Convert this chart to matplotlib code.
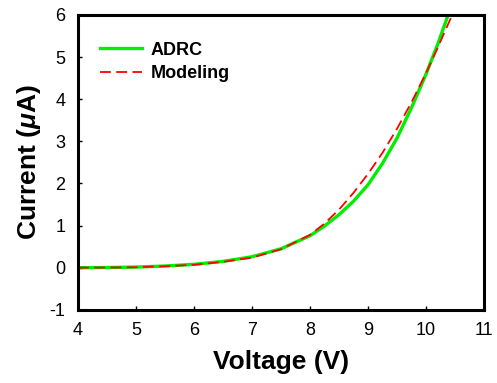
import matplotlib
matplotlib.use("Agg")
import matplotlib.pyplot as plt

# data
volt_adrc = [4.0, 4.5, 5.0, 5.5, 6.0, 6.5, 7.0, 7.5, 8.0, 8.25, 8.5, 8.75, 9.0, 9.25, 9.5, 9.75, 10.0, 10.2, 10.38]
curr_adrc = [0.0, 0.005, 0.015, 0.04, 0.08, 0.15, 0.26, 0.45, 0.76, 0.99, 1.26, 1.58, 1.97, 2.48, 3.08, 3.8, 4.6, 5.3, 6.0]

volt_model = [4.0, 4.5, 5.0, 5.5, 6.0, 6.5, 7.0, 7.5, 8.0, 8.25, 8.5, 8.75, 9.0, 9.25, 9.5, 9.75, 10.0, 10.2, 10.45]
curr_model = [0.0, 0.004, 0.012, 0.035, 0.07, 0.14, 0.24, 0.44, 0.78, 1.05, 1.38, 1.78, 2.23, 2.73, 3.3, 3.93, 4.62, 5.22, 6.0]

x_ticks = [4, 5, 6, 7, 8, 9, 10, 11]
y_ticks = [-1, 0, 1, 2, 3, 4, 5, 6]

plt.rcParams['font.family'] = ['Liberation Sans', 'DejaVu Sans']
plt.rcParams['mathtext.fontset'] = 'custom'
plt.rcParams['mathtext.it'] = 'Liberation Sans:italic:bold'
plt.rcParams['mathtext.rm'] = 'Liberation Sans:bold'
plt.rcParams['axes.unicode_minus'] = False

fig = plt.figure(figsize=(4.97, 3.83), dpi=100)
ax = fig.add_axes([0.157, 0.191, 0.817, 0.770])

ax.plot(volt_adrc, curr_adrc, color='#00ee00', lw=2.4, label='ADRC')
ax.plot(volt_model, curr_model, color='#ff0000', lw=1.3, ls=(0, (6, 3)), label='Modeling')

ax.set_xlim(4, 11)
ax.set_ylim(-1, 6)
ax.set_xticks(x_ticks)
ax.set_yticks(y_ticks)
ax.tick_params(direction='in', length=3, width=1, labelsize=13, pad=9,
               top=False, right=False)
for s in ax.spines.values():
    s.set_linewidth(2.2)

ax.set_xlabel('Voltage (V)', fontsize=19, fontweight='bold', labelpad=8)
ax.set_ylabel(r'Current ($\mu$A)', fontsize=19, fontweight='bold', labelpad=5)

leg = ax.legend(loc='upper left', bbox_to_anchor=(0.015, 0.965), frameon=False,
                prop={'weight': 'bold', 'size': 13}, handlelength=2.3,
                handletextpad=0.5, labelspacing=0.35)

fig.savefig('out.png', dpi=100)
